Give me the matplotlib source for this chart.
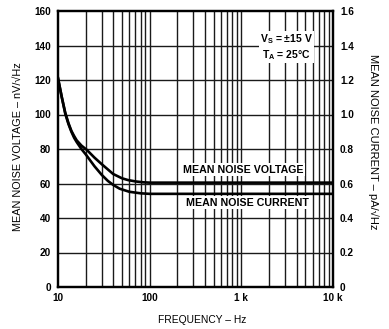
import numpy as np
import matplotlib
matplotlib.use('Agg')
import matplotlib.pyplot as plt
from matplotlib.ticker import FixedLocator, NullFormatter

plt.rcParams['font.family'] = ['Liberation Sans', 'DejaVu Sans']
plt.rcParams['mathtext.fontset'] = 'custom'
plt.rcParams['mathtext.rm'] = 'Liberation Sans:bold'
plt.rcParams['mathtext.it'] = 'Liberation Sans:bold'

# noise voltage (nV/rtHz) vs frequency
volt_freq = [10, 11, 12, 13, 14, 15, 16, 18, 20.6, 25, 30, 40, 50, 58, 70, 85, 100, 10000]
volt_vals = [121, 110, 101, 95, 90.5, 87.5, 85, 82, 79.5, 75, 71.2, 65.5, 63, 62, 61.2, 60.7, 60.5, 60.5]

# noise current (pA/rtHz, plotted on the x100 left scale)
curr_freq = [10, 11, 12, 13, 14, 15, 16, 18, 20, 25, 30, 35, 40, 47, 60, 80, 100, 10000]
curr_vals = [1.21, 1.10, 1.005, 0.945, 0.9, 0.865, 0.84, 0.8, 0.77, 0.7, 0.65, 0.615, 0.592,
             0.57, 0.552, 0.543, 0.54, 0.54]

left_ticks = [0, 20, 40, 60, 80, 100, 120, 140, 160]
right_ticks = [0, 0.2, 0.4, 0.6, 0.8, 1.0, 1.2, 1.4, 1.6]
x_ticks = [10, 100, 1000, 10000]
x_labels = ['10', '100', '1 k', '10 k']

fig = plt.figure(figsize=(3.89, 3.29), dpi=100)
ax = fig.add_axes([58 / 389, 42 / 329, 275 / 389, 276 / 329])
ax.set_xscale('log')
ax.set_xlim(10, 10000)
ax.set_ylim(0, 160)

# grid: every 1..9 per decade, every 20 on y
minor = [m * d for d in (10, 100, 1000) for m in range(2, 10)]
for f in minor + [100, 1000]:
    ax.axvline(f, color='0.1', lw=1.0, zorder=1)
for v in left_ticks[1:-1]:
    ax.axhline(v, color='0.1', lw=1.0, zorder=1)

ax.plot(volt_freq, volt_vals, color='black', lw=1.9, zorder=3)
ax.plot(curr_freq, np.array(curr_vals) * 100, color='black', lw=1.9, zorder=3)

ax.set_yticks(left_ticks)
ax.set_xticks(x_ticks)
ax.set_xticklabels(x_labels)
ax.xaxis.set_minor_locator(FixedLocator(minor))
ax.xaxis.set_minor_formatter(NullFormatter())
ax.tick_params(axis='both', which='both', length=0, labelsize=7.2, pad=5)
ax.tick_params(axis='x', pad=4)
for lbl in ax.get_xticklabels() + ax.get_yticklabels():
    lbl.set_fontweight('bold')
for s in ax.spines.values():
    s.set_linewidth(1.6)

ax2 = ax.twinx()
ax2.set_ylim(0, 1.6)
ax2.set_yticks(right_ticks)
ax2.set_yticklabels(['0', '0.2', '0.4', '0.6', '0.8', '1.0', '1.2', '1.4', '1.6'],
                    fontweight='bold')
ax2.tick_params(axis='y', length=0, labelsize=7.2, pad=5)
for s in ax2.spines.values():
    s.set_linewidth(1.6)

box = dict(facecolor='white', edgecolor='none', pad=1.0)
ax.text(3100, 139, 'V$_S$ = ±15 V\nT$_A$ = 25°C', ha='center', va='center',
        fontsize=7.5, fontweight='bold', linespacing=1.15, bbox=box, zorder=4)
ax.text(1040, 68, 'MEAN NOISE VOLTAGE', ha='center', va='center',
        fontsize=7.7, fontweight='bold', bbox=box, zorder=4)
ax.text(1180, 48.8, 'MEAN NOISE CURRENT', ha='center', va='center',
        fontsize=7.7, fontweight='bold', bbox=box, zorder=4)

fig.text(18 / 389, 1 - 147 / 329, 'MEAN NOISE VOLTAGE – nV/\u221aHz', rotation=90,
         ha='center', va='center', fontsize=7.8)
fig.text(373 / 389, 1 - 142 / 329, 'MEAN NOISE CURRENT – pA/\u221aHz', rotation=-90,
         ha='center', va='center', fontsize=8)
fig.text(202 / 389, 1 - 320 / 329, 'FREQUENCY – Hz', ha='center', va='center', fontsize=7.4)

fig.savefig('out.png', dpi=100)
